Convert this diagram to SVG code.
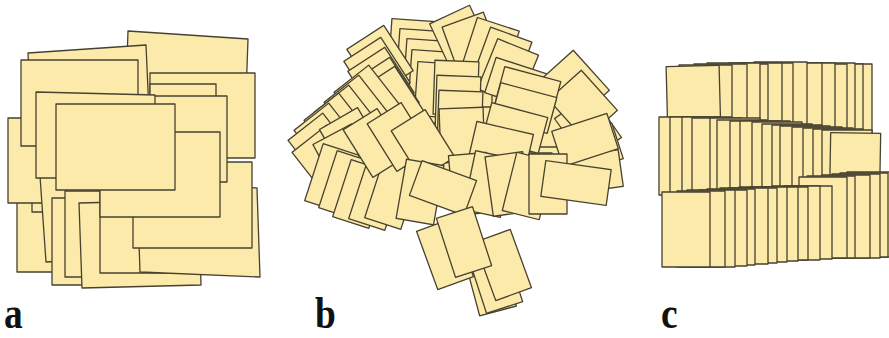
<svg xmlns="http://www.w3.org/2000/svg" xmlns:xlink="http://www.w3.org/1999/xlink" width="889" height="338" viewBox="0 0 889 338">
<style>
.cards{fill:#fbeaa9;stroke:#47412f;stroke-width:1.3;stroke-linejoin:round}
.lbl{font-family:"Liberation Serif","DejaVu Serif",serif;font-weight:bold;font-size:44px;fill:#111}
</style>
<defs>
<rect id="bp" x="-22" y="-27" width="44" height="54"/>
<rect id="bl" x="-29" y="-18.5" width="58" height="37"/>
<rect id="bt" x="-19" y="-30" width="38" height="60"/>
<rect id="bd" x="-20" y="-28" width="40" height="56"/>
<rect id="bw" x="-33" y="-18" width="66" height="36"/>
<rect id="bk" x="-19" y="-31" width="38" height="62"/>
</defs>
<rect width="889" height="338" fill="#ffffff"/>

<g id="panel-a" class="cards">
<polygon points="128,31 248,39 245,125 125,117"/>
<polygon points="28,53 146,45 150,135 32,143"/>
<polygon points="17,186 137,186 137,272 17,272"/>
<polygon points="32,126 150,126 150,212 32,212"/>
<polygon points="8,118 128,118 128,203 8,203"/>
<polygon points="21,60 138,60 138,146 21,146"/>
<polygon points="40,176 160,169 166,255 46,262"/>
<polygon points="52,198 172,198 172,285 52,285"/>
<polygon points="65,191 185,191 185,277 65,277"/>
<polygon points="79,203 199,200 201,285 82,288"/>
<polygon points="100,187 220,187 220,273 100,273"/>
<polygon points="137,183 257,188 260,277 140,272"/>
<polygon points="133,162 252,162 252,248 133,248"/>
<polygon points="150,73 255,73 255,158 150,158"/>
<polygon points="150,84 216,84 216,150 150,150"/>
<polygon points="107,96 227,96 227,182 107,182"/>
<polygon points="36,92 155,95 155,178 36,178"/>
<polygon points="100,132 220,132 220,217 100,217"/>
<polygon points="56,104 175,104 175,190 56,190"/>
</g>

<g id="panel-b" class="cards">
<use href="#bp" transform="translate(420 110)"/>
<use href="#bp" transform="translate(480 110)"/>
<use href="#bp" transform="translate(520 115)"/>
<use href="#bp" transform="translate(380 125)"/>
<use href="#bp" transform="translate(440 150)"/>
<use href="#bp" transform="translate(500 160)"/>
<use href="#bp" transform="translate(360 165)"/>
<use href="#bp" transform="translate(545 150)"/>
<use href="#bp" transform="translate(560 120)"/>
<use href="#bp" transform="translate(470 80)"/>
<use href="#bp" transform="translate(420 80)"/>
<use href="#bp" transform="translate(400 170)"/>
<use href="#bp" transform="translate(530 180)"/>

<use href="#bp" transform="translate(588 128) rotate(-35)"/>
<use href="#bl" transform="translate(590 150) rotate(-18)"/>
<use href="#bl" transform="translate(592 172) rotate(-8)"/>

<use href="#bp" transform="translate(412 47) rotate(4)"/>
<use href="#bp" transform="translate(420 57) rotate(4)"/>
<use href="#bp" transform="translate(427 67) rotate(4)"/>
<use href="#bp" transform="translate(432 78) rotate(4)"/>
<use href="#bp" transform="translate(438 90) rotate(4)"/>

<use href="#bp" transform="translate(461 39) rotate(-25)"/>
<use href="#bp" transform="translate(472 45) rotate(-20)"/>
<use href="#bp" transform="translate(490 50) rotate(18)"/>
<use href="#bp" transform="translate(502 60) rotate(20)"/>
<use href="#bp" transform="translate(508 72) rotate(22)"/>
<use href="#bl" transform="translate(518 84) rotate(18)"/>

<use href="#bp" transform="translate(380 60) rotate(-33)"/>
<use href="#bp" transform="translate(377 72) rotate(-33)"/>
<use href="#bp" transform="translate(381 82) rotate(-33)"/>
<use href="#bp" transform="translate(386 92) rotate(-33)"/>
<use href="#bp" transform="translate(391 101) rotate(-33)"/>

<use href="#bp" transform="translate(368 100) rotate(-38)"/>
<use href="#bp" transform="translate(358 110) rotate(-38)"/>
<use href="#bp" transform="translate(348 120) rotate(-38)"/>
<use href="#bp" transform="translate(338 128) rotate(-38)"/>
<use href="#bp" transform="translate(328 138) rotate(-38)"/>
<use href="#bp" transform="translate(322 148) rotate(-38)"/>
<use href="#bp" transform="translate(326 160) rotate(-38)"/>

<use href="#bp" transform="translate(575 85) rotate(-42)"/>
<use href="#bp" transform="translate(583 105) rotate(-42)"/>
<use href="#bl" transform="translate(585 140) rotate(-18)"/>

<use href="#bp" transform="translate(456 88) rotate(2)"/>
<use href="#bp" transform="translate(458 103) rotate(2)"/>
<use href="#bp" transform="translate(460 118) rotate(2)"/>
<use href="#bp" transform="translate(462 135) rotate(-2)"/>

<use href="#bl" transform="translate(528 92) rotate(15)"/>
<use href="#bl" transform="translate(524 108) rotate(15)"/>
<use href="#bl" transform="translate(515 128) rotate(15)"/>
<use href="#bl" transform="translate(501 146) rotate(13)"/>

<use href="#bp" transform="translate(352 142) rotate(-30)"/>
<use href="#bp" transform="translate(345 158) rotate(-28)"/>

<use href="#bt" transform="translate(332 178) rotate(18)"/>
<use href="#bt" transform="translate(346 185) rotate(18)"/>
<use href="#bt" transform="translate(360 194) rotate(18)"/>
<use href="#bt" transform="translate(376 196) rotate(18)"/>
<use href="#bt" transform="translate(392 195) rotate(18)"/>

<use href="#bd" transform="translate(375 143) rotate(-32)"/>
<use href="#bd" transform="translate(399 137) rotate(-32)"/>
<use href="#bd" transform="translate(423 144) rotate(-32)"/>

<use href="#bt" transform="translate(420 192) rotate(10)"/>
<use href="#bt" transform="translate(470 184) rotate(-5)"/>
<use href="#bt" transform="translate(488 184) rotate(12)"/>
<use href="#bt" transform="translate(508 184) rotate(-8)"/>
<use href="#bt" transform="translate(528 186) rotate(14)"/>
<use href="#bt" transform="translate(548 184)"/>
<use href="#bl" transform="translate(443 188) rotate(20)"/>

<use href="#bw" transform="translate(576 183) rotate(8)"/>

<use href="#bk" transform="translate(490 281) rotate(-15)"/>
<use href="#bk" transform="translate(495 278) rotate(-18)"/>
<use href="#bk" transform="translate(503 265) rotate(-20)"/>
<use href="#bk" transform="translate(445 254) rotate(-20)"/>
<use href="#bk" transform="translate(464 242) rotate(-18)"/>
</g>

<g id="panel-c" class="cards">
<rect x="819" y="64" width="53" height="70"/>
<rect x="810" y="64" width="53" height="70"/>
<rect x="802" y="63" width="53" height="70"/>
<rect x="794" y="64" width="53" height="70"/>
<rect x="782" y="63" width="53" height="70"/>
<rect x="769" y="63" width="53" height="70"/>
<rect x="754" y="62" width="53" height="70"/>
<rect x="740" y="63" width="53" height="70"/>
<rect x="729" y="63" width="53" height="70"/>
<rect x="715" y="64" width="53" height="70"/>
<rect x="707" y="63" width="53" height="70"/>
<rect x="694" y="64" width="53" height="70"/>
<rect x="679" y="65" width="53" height="70"/>
<rect x="667" y="66" width="53" height="70" transform="rotate(-1.5 693 101)"/>

<rect x="659" y="117" width="50" height="78"/>
<rect x="670" y="117" width="50" height="78"/>
<rect x="682" y="117" width="50" height="78"/>
<rect x="692" y="118" width="50" height="78"/>
<rect x="710" y="118" width="50" height="78"/>
<rect x="717" y="120" width="50" height="78"/>
<rect x="730" y="121" width="50" height="78"/>
<rect x="740" y="121" width="50" height="78"/>
<rect x="752" y="122" width="50" height="78"/>
<rect x="762" y="124" width="50" height="78"/>
<rect x="772" y="125" width="50" height="78"/>
<rect x="780" y="126" width="50" height="78"/>
<rect x="792" y="127" width="50" height="78"/>
<rect x="803" y="128" width="50" height="78"/>
<rect x="813" y="129" width="50" height="78"/>
<rect x="822" y="130" width="50" height="78"/>
<rect x="830" y="133" width="50" height="78" transform="rotate(1 855 172)"/>

<rect x="847" y="172" width="48" height="85"/>
<rect x="840" y="173" width="48" height="84"/>
<rect x="832" y="174" width="48" height="84"/>
<rect x="822" y="175" width="48" height="83"/>
<rect x="807" y="176" width="48" height="82"/>
<rect x="799" y="177" width="48" height="81"/>
<rect x="784" y="186" width="48" height="73"/>
<rect x="772" y="186" width="48" height="74"/>
<rect x="760" y="187" width="48" height="73"/>
<rect x="750" y="187" width="48" height="74"/>
<rect x="739" y="187" width="48" height="75"/>
<rect x="729" y="188" width="48" height="75"/>
<rect x="720" y="188" width="48" height="76"/>
<rect x="707" y="189" width="48" height="76"/>
<rect x="699" y="190" width="48" height="76"/>
<rect x="687" y="190" width="48" height="77"/>
<rect x="677" y="191" width="48" height="76"/>
<rect x="662" y="192" width="48" height="75"/>
</g>

<g id="labels">
<text class="lbl" transform="translate(4 328) scale(0.85 1)">a</text>
<text class="lbl" transform="translate(315 328) scale(0.85 1)">b</text>
<text class="lbl" transform="translate(661 328) scale(0.85 1)">c</text>
</g>
</svg>
